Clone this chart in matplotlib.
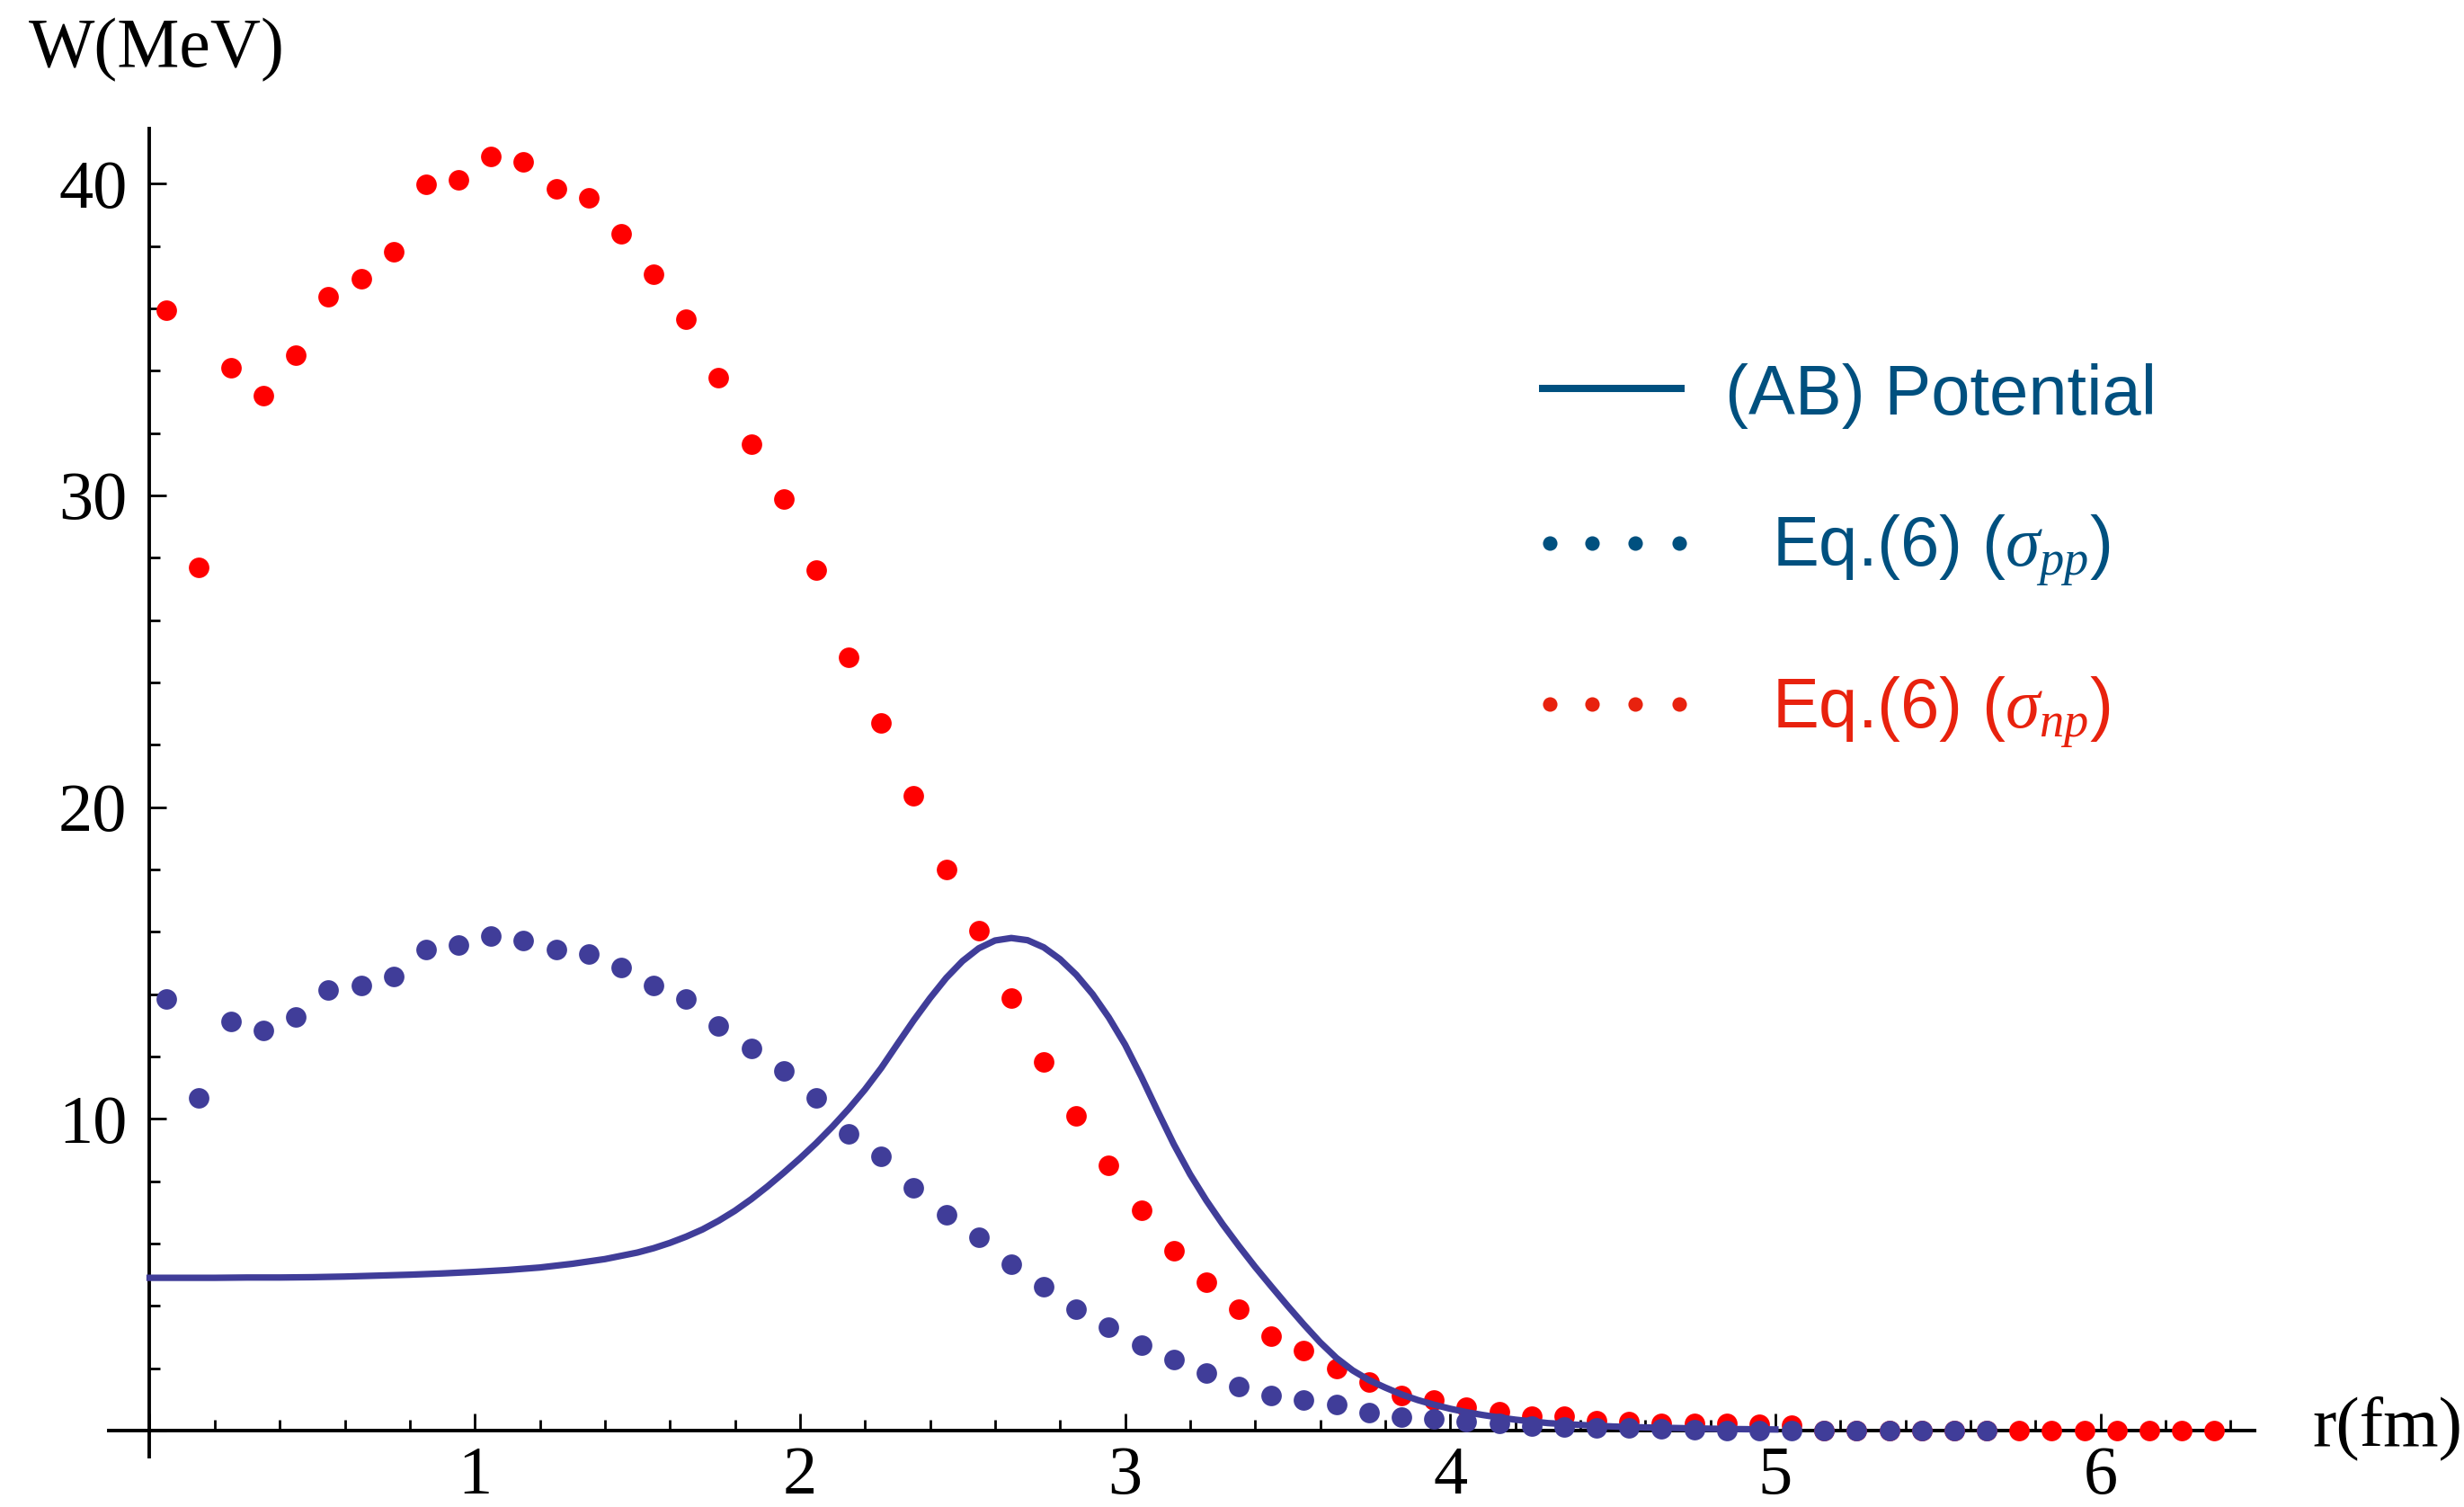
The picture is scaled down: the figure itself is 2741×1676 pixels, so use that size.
import numpy as np
import matplotlib.pyplot as plt

plt.rcParams['font.family'] = ['Liberation Serif', 'DejaVu Serif']
plt.rcParams['mathtext.fontset'] = 'custom'
plt.rcParams['mathtext.rm'] = 'Liberation Serif'
plt.rcParams['mathtext.it'] = 'Liberation Serif:italic'

### Data ###
# (AB) potential, W in MeV at radius r in fm
r_ab = [0.0, 0.1, 0.2, 0.3, 0.4, 0.5, 0.6, 0.7, 0.8, 0.9,
        1.0, 1.1, 1.2, 1.3, 1.4, 1.5, 1.55, 1.6, 1.65, 1.7, 1.75, 1.8, 1.85, 1.9, 1.95,
        2.0, 2.05, 2.1, 2.15, 2.2, 2.25, 2.3, 2.35, 2.4, 2.45,
        2.5, 2.55, 2.6, 2.65, 2.7, 2.75, 2.8, 2.85, 2.9, 2.95,
        3.0, 3.05, 3.1, 3.15, 3.2, 3.25, 3.3, 3.35, 3.4, 3.45,
        3.5, 3.55, 3.6, 3.65, 3.7, 3.75, 3.8, 3.85, 3.9, 3.95,
        4.0, 4.05, 4.1, 4.15, 4.2, 4.3, 4.4, 4.5, 4.6, 4.7, 4.8, 4.9, 5.0]
w_ab = [4.90, 4.90, 4.90, 4.91, 4.91, 4.92, 4.94, 4.97, 5.00, 5.04,
        5.09, 5.15, 5.23, 5.35, 5.50, 5.71, 5.85, 6.02, 6.22, 6.45, 6.73, 7.05, 7.42, 7.83, 8.27,
        8.73, 9.22, 9.75, 10.32, 10.94, 11.63, 12.40, 13.16, 13.87, 14.52,
        15.06, 15.47, 15.72, 15.80, 15.73, 15.50, 15.12, 14.62, 14.00, 13.25,
        12.38, 11.35, 10.25, 9.18, 8.22, 7.38, 6.62, 5.92, 5.25, 4.62,
        4.00, 3.40, 2.83, 2.33, 1.93, 1.62, 1.38, 1.16, 0.98, 0.83,
        0.70, 0.59, 0.50, 0.42, 0.35, 0.24, 0.18, 0.13, 0.10, 0.08, 0.06, 0.045, 0.035]

# Eq.(6) with sigma_pp, sampled every 0.1 fm from 0.05 fm
w_pp = [13.85, 10.66, 13.11, 12.83, 13.26, 14.13, 14.28, 14.57, 15.43, 15.57,
        15.86, 15.72, 15.43, 15.29, 14.85, 14.28, 13.84, 12.99, 12.27, 11.55,
        10.68, 9.53, 8.81, 7.79, 6.92, 6.20, 5.34, 4.61, 3.89, 3.32,
        2.74, 2.29, 1.85, 1.42, 1.13, 0.99, 0.85, 0.58, 0.43, 0.38,
        0.28, 0.24, 0.15, 0.12, 0.10, 0.08, 0.06, 0.02, 0.01, 0.0,
        0.0, 0.0, 0.0, 0.0, 0.0, 0.0, 0.0]

# Eq.(6) with sigma_np, same radii
w_np = [35.95, 27.70, 34.08, 33.21, 34.50, 36.38, 36.96, 37.82, 39.98, 40.13,
        40.87, 40.70, 39.84, 39.55, 38.40, 37.10, 35.66, 33.79, 31.63, 29.88,
        27.60, 24.80, 22.70, 20.35, 18.00, 16.04, 13.87, 11.83, 10.10, 8.52,
        7.07, 5.77, 4.76, 3.89, 3.02, 2.58, 2.00, 1.57, 1.13, 0.99,
        0.75, 0.61, 0.47, 0.45, 0.32, 0.30, 0.22, 0.22, 0.22, 0.20,
        0.18, 0.0, 0.0, 0.0, 0.0, 0.0, 0.0, 0.0, 0.0, 0.0,
        0.0, 0.0, 0.0, 0.0]

r_pp = np.round(0.05 + 0.1 * np.arange(len(w_pp)), 2)
r_np = np.round(0.05 + 0.1 * np.arange(len(w_np)), 2)

x_major = [0, 1, 2, 3, 4, 5, 6]
x_labels = ['', '1', '2', '3', '4', '5', '6']
y_major = [0, 10, 20, 30, 40]
y_labels = ['', '10', '20', '30', '40']

line_col = '#403d99'
np_col = '#ff0000'
leg_blue = '#00507f'
leg_red = '#e8220e'

### Plot ###
W, H = 2741, 1676
fig = plt.figure(figsize=(W / 200, H / 200), dpi=200)
ax = fig.add_axes([0, 0, 1, 1])
ax.set_xlim(-0.4603, 7.118)
ax.set_ylim(-2.452, 45.89)
ax.patch.set_visible(False)

ax.plot(r_np, w_np, 'o', color=np_col, ms=8.2, mew=0, zorder=3)
ax.plot(r_ab, w_ab, '-', color=line_col, lw=2.6, zorder=4,
        solid_joinstyle='round')
ax.plot(r_pp, w_pp, 'o', color=line_col, ms=8.2, mew=0, zorder=5)

# axes through the origin
for s in ['top', 'right']:
    ax.spines[s].set_visible(False)
ax.spines['left'].set_position(('data', 0))
ax.spines['bottom'].set_position(('data', 0))
ax.spines['left'].set_bounds(-0.84, 41.76)
ax.spines['bottom'].set_bounds(-0.127, 6.475)
for s in ['left', 'bottom']:
    ax.spines[s].set_linewidth(1.4)
    ax.spines[s].set_zorder(2)

ax.set_xticks(x_major)
ax.set_xticklabels(x_labels)
ax.set_yticks(y_major)
ax.set_yticklabels(y_labels)
ax.set_xticks([v / 10 for v in range(2, 65, 2) if v % 10], minor=True)
ax.set_yticks([v for v in range(2, 41, 2) if v % 10], minor=True)
ax.tick_params(which='both', direction='in', width=1.0, labelsize=27.5)
ax.tick_params(which='major', length=7)
ax.tick_params(which='minor', length=4.3)
ax.tick_params(axis='x', pad=6)
ax.tick_params(axis='y', pad=9)

# axis titles
ax.text(31.6 / W, 1 - 74 / H, 'W(MeV)', transform=ax.transAxes,
        ha='left', va='baseline', fontsize=28)
ax.text(2572 / W, 1 - 1607 / H, 'r(fm)', transform=ax.transAxes,
        ha='left', va='baseline', fontsize=28.5)

# legend
sans = ['Liberation Sans', 'DejaVu Sans']
ax.plot([1712 / W, 1874 / W], [1 - 431.7 / H] * 2, transform=ax.transAxes,
        color=leg_blue, lw=2.9, solid_capstyle='butt')
dots_x = [1724 / W, 1771 / W, 1819 / W, 1868 / W]
ax.plot(dots_x, [1 - 604 / H] * 4, 'o', transform=ax.transAxes,
        color=leg_blue, ms=5.8, mew=0)
ax.plot(dots_x, [1 - 783 / H] * 4, 'o', transform=ax.transAxes,
        color=leg_red, ms=5.8, mew=0)
ax.text(2159 / W, 1 - 461 / H, '(AB) Potential', transform=ax.transAxes,
        ha='center', va='baseline', fontsize=28, family=sans, color=leg_blue)
ax.text(2159 / W, 1 - 629 / H, r'Eq.(6) ($\sigma_{pp}$)', transform=ax.transAxes,
        ha='center', va='baseline', fontsize=28, family=sans, color=leg_blue)
ax.text(2159 / W, 1 - 809 / H, r'Eq.(6) ($\sigma_{np}$)', transform=ax.transAxes,
        ha='center', va='baseline', fontsize=28, family=sans, color=leg_red)

fig.savefig('out.png', dpi=200)
